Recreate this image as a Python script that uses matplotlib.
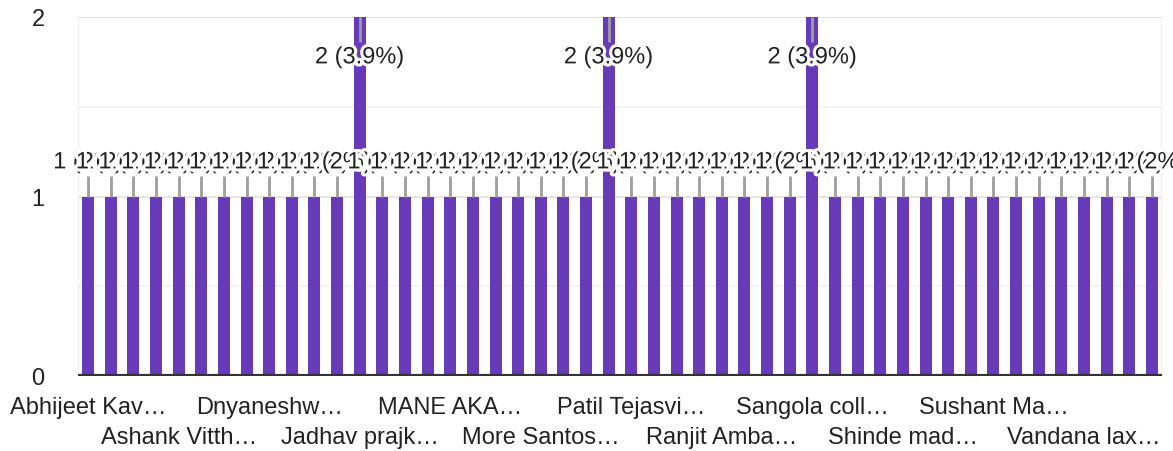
import matplotlib
matplotlib.use("Agg")
import matplotlib.pyplot as plt
import matplotlib.patheffects as pe
import numpy as np

plt.rcParams['font.family'] = ['Liberation Sans', 'DejaVu Sans']

# Responses per name (48 names, 51 responses in total)
counts = [1] * 48
counts[12] = 2
counts[23] = 2
counts[32] = 2

# Every fourth name is shown on the axis, alternating between two rows
tick_labels = [
    "Abhijeet Kav…", "Ashank Vitth…", "Dnyaneshw…", "Jadhav prajk…",
    "MANE AKA…", "More Santos…", "Patil Tejasvi…", "Ranjit Amba…",
    "Sangola coll…", "Shinde mad…", "Sushant Ma…", "Vandana lax…",
]
tick_step = 4

total = sum(counts)
bar_color = "#673ab7"
text_color = "#222222"
fs = 17

fig = plt.figure(figsize=(11.73, 4.52), dpi=100)
ax = fig.add_axes([78 / 1173, 75 / 452, (1162 - 78) / 1173, (377 - 18) / 452])

x = np.arange(len(counts))
ax.set_xlim(-0.45, len(counts) - 0.55)
ax.set_ylim(0, 2)

# gridlines
for yv in (0.5, 1.5):
    ax.axhline(yv, color="#f2f2f2", lw=1.2, zorder=0)
for yv in (1.0, 2.0):
    ax.axhline(yv, color="#e6e6e6", lw=1.4, zorder=0)
ax.axvline(ax.get_xlim()[0], color="#ececec", lw=1.2, zorder=0)
ax.axvline(ax.get_xlim()[1], color="#ececec", lw=1.2, zorder=0)

ax.bar(x, counts, width=0.53, color=bar_color, zorder=2)
ax.axhline(0, color="#333333", lw=3, zorder=3)

# annotation stems and labels
halo = [pe.withStroke(linewidth=4.5, foreground="white")]
for xi, c in zip(x, counts):
    if c >= 2:
        y0, y1 = c, c - 0.14
    else:
        y0, y1 = c, c + 0.115
    ax.plot([xi, xi], [y0, y1], color="#9e9e9e", lw=2, zorder=4,
            solid_capstyle="butt")
for xi, c in zip(x, counts):
    yt = c - 0.225 if c >= 2 else c + 0.19
    pct = 100 * c / total
    txt = f"{c} ({pct:.1f}%)" if c >= 2 else f"{c} ({pct:.0f}%)"
    ax.text(xi, yt, txt, ha="center", va="center", fontsize=fs,
            color=text_color, path_effects=halo, zorder=5)

for s in ax.spines.values():
    s.set_visible(False)

ax.set_yticks([0, 1, 2])
ax.set_yticklabels(["0", "1", "2"], fontsize=fs, color=text_color)
ax.tick_params(axis="y", length=0, pad=24)

tick_pos = x[::tick_step][:len(tick_labels)]
ax.set_xticks(tick_pos)
ax.set_xticklabels([""] * len(tick_pos))
ax.tick_params(axis="x", length=0)
for i, (tp, lab) in enumerate(zip(tick_pos, tick_labels)):
    yoff = -31 / 359 * 2 if i % 2 == 0 else -61 / 359 * 2
    ax.text(tp, yoff, lab, ha="center", va="center", fontsize=fs,
            color=text_color, clip_on=False)

fig.savefig("out.png", dpi=100, facecolor="white")
